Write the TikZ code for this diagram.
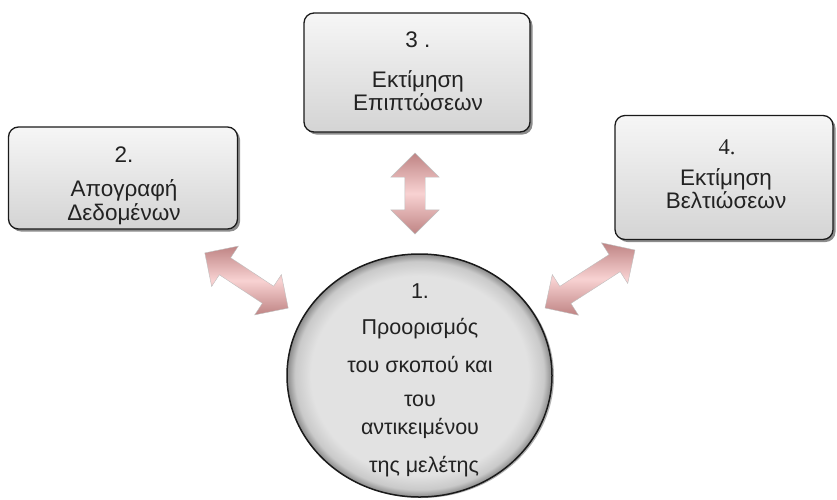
\documentclass[tikz,border=0pt]{standalone}
\usepackage{fontspec}
\setmainfont{Liberation Sans}
\newfontfamily\numserif{Liberation Serif}
\usetikzlibrary{shapes.geometric,shapes.arrows,shadows}

\definecolor{boxtop}{HTML}{F6F6F6}
\definecolor{boxbot}{HTML}{D4D4D4}
\definecolor{rim}{HTML}{1A1A1A}
\definecolor{inktext}{HTML}{222222}
\definecolor{pinklight}{HTML}{F8D2D2}
\definecolor{pinkdark}{HTML}{BF8484}
\definecolor{discin}{HTML}{E2E2E2}
\definecolor{discout}{HTML}{8A8A8A}

% flat light centre that darkens only in a narrow band at the rim of the disc
\pgfdeclareradialshading{discshade}{\pgfpoint{0bp}{0bp}}{%
  color(0bp)=(discin); color(20.5bp)=(discin); color(23.5bp)=(discin!72!discout);
  color(25bp)=(discout); color(50bp)=(discout)}

\begin{document}
\begin{tikzpicture}[x=1pt,y=-1pt,
  stepbox/.style={rectangle, rounded corners=10pt, draw=rim, line width=1.3pt,
    top color=boxtop, bottom color=boxbot, inner sep=0pt,
    drop shadow={shadow xshift=2.5pt, shadow yshift=-2.5pt, opacity=0.45, fill=black}},
  caption/.style={text=inktext, font=\fontsize{22.5}{24}\selectfont, inner sep=0pt, anchor=base},
  disccap/.style={caption, font=\fontsize{21.5}{23}\selectfont},
  twoway/.style={double arrow, double arrow head extend=14pt, double arrow tip angle=90,
    inner xsep=0pt, inner ysep=10pt, minimum width=0pt,
    top color=pinkdark, bottom color=pinkdark, middle color=pinklight,
    draw=gray!50, line width=0.4pt}]
\useasboundingbox (0,0) rectangle (837,499);

% step boxes
\node[stepbox, minimum width=226pt, minimum height=119pt] (b3) at (417,72.5) {};
\node[stepbox, minimum width=229pt, minimum height=102pt] (b2) at (123,178) {};
\node[stepbox, minimum width=218pt, minimum height=124pt] (b4) at (724,177.5) {};

% central disc
\node[ellipse, minimum width=265pt, minimum height=243pt, inner sep=0pt,
      draw=rim, line width=1.5pt, shade, shading=discshade,
      drop shadow={shadow xshift=2pt, shadow yshift=-1pt, opacity=0.3, fill=black}]
      (c1) at (419.5,375.5) {};

% two-way arrows between the disc and the boxes
\node[twoway, minimum height=81pt, rotate=90] (a13) at (415,193.5) {};
\node[twoway, minimum height=100pt, rotate=-33.5] (a12) at (246.5,280.5) {};
\node[twoway, minimum height=107pt, rotate=32.8] (a14) at (590,279) {};

% box captions
\node[caption] (t3a) at (418,47) {3 .};
\node[caption] (t3b) at (418,87) {Εκτίμηση};
\node[caption] (t3c) at (418,110) {Επιπτώσεων};

\node[caption] (t2a) at (124,162) {2.};
\node[caption] (t2b) at (124,196) {Απογραφή};
\node[caption] (t2c) at (124,220) {Δεδομένων};

\node[caption, font=\numserif\fontsize{22.5}{24}\selectfont] (t4a) at (727,154) {4.};
\node[caption] (t4b) at (726,185) {Εκτίμηση};
\node[caption] (t4c) at (726,208) {Βελτιώσεων};

% disc caption
\node[disccap] (t1a) at (420,298) {1.};
\node[disccap] (t1b) at (420,334) {Προορισμός};
\node[disccap] (t1c) at (420,372) {του σκοπού και};
\node[disccap] (t1d) at (420,406) {του};
\node[disccap] (t1e) at (420,434) {αντικειμένου};
\node[disccap] (t1f) at (424,472) {της μελέτης};
\end{tikzpicture}
\end{document}
